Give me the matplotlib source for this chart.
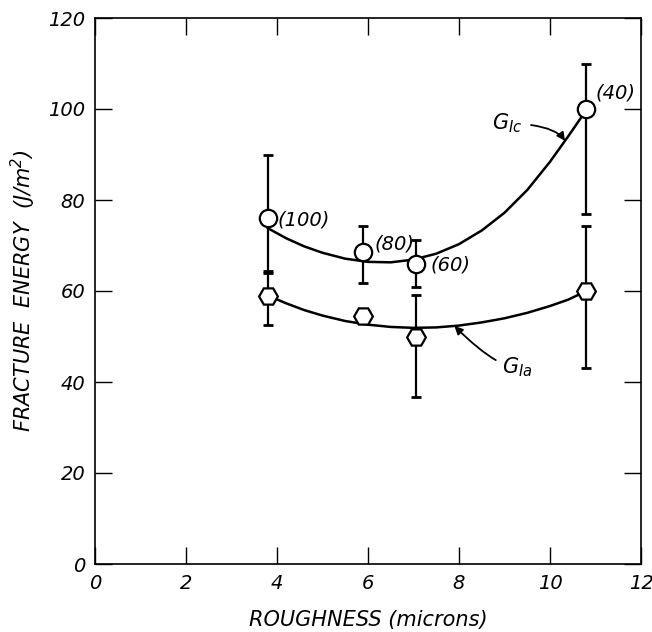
import matplotlib
matplotlib.use("Agg")
import matplotlib.pyplot as plt
import numpy as np

plt.rcParams['font.family'] = ['DejaVu Sans']
plt.rcParams['font.style'] = 'italic'
plt.rcParams['mathtext.default'] = 'it'

# G_Ic (circles) and G_Ia (hexagons) data points
x_c = [3.8, 5.9, 7.05, 10.8]
y_c = [76, 68.5, 66, 100]
lo_c = [64, 61.8, 60.9, 77]
hi_c = [90, 74.3, 71.2, 110]
lab_c = ['(100)', '(80)', '(60)', '(40)']

x_a = [3.8, 5.9, 7.05, 10.8]
y_a = [59, 54.5, 50, 60]
lo_a = [52.5, 54.5, 36.7, 43]
hi_a = [64.5, 54.5, 59.1, 74.3]

# hand-drawn fit curves
cx = [3.8, 4.2, 4.6, 5.0, 5.5, 6.0, 6.5, 7.0, 7.5, 8.0, 8.5, 9.0, 9.5, 10.0, 10.4, 10.8]
cy_c = [73.8, 71.6, 69.8, 68.4, 67.1, 66.4, 66.3, 66.9, 68.2, 70.3, 73.3, 77.2, 82.2, 88.4, 94.0, 99.8]
cy_a = [59, 57.3, 55.8, 54.6, 53.4, 52.6, 52.1, 51.9, 52.0, 52.4, 53.1, 54.0, 55.2, 56.7, 58.1, 60]

xticks = [0, 2, 4, 6, 8, 10, 12]
yticks = [0, 20, 40, 60, 80, 100, 120]

fig = plt.figure(figsize=(6.52, 6.32), dpi=100)
ax = fig.add_axes([95/652, 68/632, 546/652, 546/632])

ax.plot(cx, cy_c, color='black', lw=1.8, zorder=2)
ax.plot(cx, cy_a, color='black', lw=1.8, zorder=2)

yc = np.array(y_c)
ax.errorbar(x_c, y_c, yerr=[yc - np.array(lo_c), np.array(hi_c) - yc], fmt='none',
            ecolor='black', elinewidth=1.6, capsize=3.5, capthick=2, zorder=1)
ya = np.array(y_a)
ax.errorbar(x_a, y_a, yerr=[ya - np.array(lo_a), np.array(hi_a) - ya], fmt='none',
            ecolor='black', elinewidth=1.6, capsize=3.5, capthick=2, zorder=1)

ax.plot(x_c, y_c, 'o', ms=12.5, mfc='white', mec='black', mew=1.6, zorder=3)
ax.plot(x_a, y_a, 'H', ms=13.5, mfc='white', mec='black', mew=1.6, zorder=3)

lab_pos = [(4.02, 75.5), (6.15, 70.3), (7.38, 65.7), (11.0, 103.5)]
for t, (px, py) in zip(lab_c, lab_pos):
    ax.text(px, py, t, fontsize=14, ha='left', va='center')

ax.annotate(r'$G_{Ic}$', xy=(10.33, 93.0), xytext=(9.4, 96.8), fontsize=15,
            ha='right', va='center',
            arrowprops=dict(arrowstyle='-|>', color='black', lw=1.3,
                            connectionstyle='angle3,angleA=0,angleB=125',
                            shrinkA=4, shrinkB=0, mutation_scale=12))
ax.annotate(r'$G_{Ia}$', xy=(7.9, 52.3), xytext=(8.95, 43.2), fontsize=15,
            ha='left', va='center',
            arrowprops=dict(arrowstyle='-|>', color='black', lw=1.3,
                            connectionstyle='angle3,angleA=0,angleB=-45',
                            shrinkA=3, shrinkB=0, mutation_scale=12))

ax.set_xlim(0, 12)
ax.set_ylim(0, 120)
ax.set_xticks(xticks)
ax.set_yticks(yticks)
ax.set_xticklabels([str(v) for v in xticks])
ax.set_yticklabels([str(v) for v in yticks])
ax.tick_params(direction='in', length=12, width=1, top=True, right=True,
               labelsize=14, pad=7)
for s in ax.spines.values():
    s.set_linewidth(1.2)

ax.set_xlabel('ROUGHNESS (microns)', fontsize=15)
ax.set_ylabel(r'FRACTURE  ENERGY  (J/m$^2$)', fontsize=15)
ax.xaxis.set_label_coords(0.5, -0.085)
ax.yaxis.set_label_coords(-0.105, 0.5)

fig.savefig('out.png', dpi=100)
